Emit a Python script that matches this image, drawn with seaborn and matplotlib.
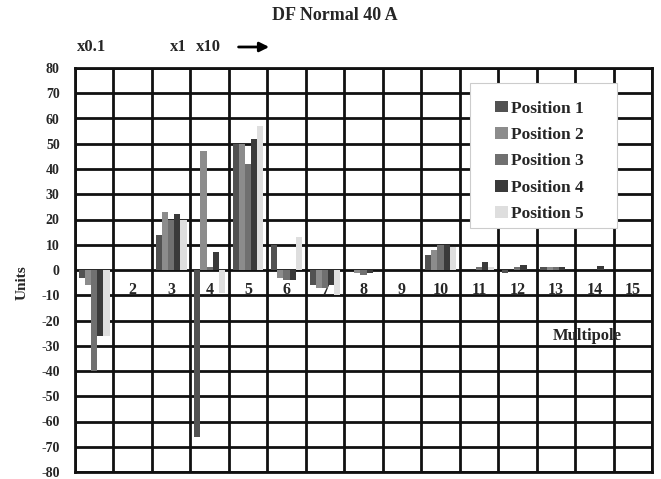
import numpy as np
import pandas as pd
import seaborn as sns
import matplotlib.pyplot as plt
from matplotlib.patches import Rectangle

# multipole index 1..15
multipoles = [str(i) for i in range(1, 16)]
positions = ["Position 1", "Position 2", "Position 3", "Position 4", "Position 5"]

pos1 = [-3, 0, 14, -66, 50, 10, -6, 0, 0, 6, 0, -1, 1, 0, 0]
pos2 = [-6, 0, 23, 47, 50, -3, -7, -1, 0, 8, 0, 0, 1, 0, 0]
pos3 = [-40, 0, 20, 1, 42, -4, -7, -2, 0, 10, 1, 1, 1, 0, 0]
pos4 = [-26, 0, 22, 7, 52, -4, -6, -1, 0, 10, 3, 2, 1, 1.5, 0]
pos5 = [-26, 0, 20, -9, 57, 13, -10, 0, 0, 9, 1, 0, 0, 0, 0]

colors = ["#525252", "#8c8c8c", "#707070", "#3a3a3a", "#dedede"]

df = pd.DataFrame({
    "Multipole": multipoles * 5,
    "Units": pos1 + pos2 + pos3 + pos4 + pos5,
    "Position": [p for p in positions for _ in multipoles],
})

sns.set_theme(style="white")
plt.rcParams['font.family'] = ['Liberation Serif', 'DejaVu Serif']
plt.rcParams['font.weight'] = 'bold'
plt.rcParams['axes.unicode_minus'] = False

f = plt.figure(figsize=(6.61, 4.79), dpi=100)
ax = f.add_axes([75 / 661, 1 - 472 / 479, 577 / 661, 404 / 479])

bplot = sns.barplot(data=df, x="Multipole", y="Units", hue="Position", order=multipoles,
                    hue_order=positions, palette=colors, saturation=1, width=0.8,
                    linewidth=0, ax=ax, zorder=3)

ax.set_ylim(-80, 80)
ax.set_xlim(-0.5, 14.5)
ax.set_yticks(np.arange(-80, 81, 10))
ax.set_xticks(np.arange(-0.5, 15, 1))
ax.set_xticklabels([])
ax.grid(True, color="#111111", linewidth=2)
ax.set_axisbelow(True)
ax.tick_params(axis="y", length=6, width=2, color="#111111", labelsize=10, pad=5)
ax.tick_params(axis="x", length=0)
for s in ax.spines.values():
    s.set_color("#111111")
    s.set_linewidth(2)

# multipole numbers inside the plot
for i, m in enumerate(multipoles):
    ax.text(i, -7.9, m, ha="center", va="center", fontsize=11.5, fontweight="bold", zorder=1)

ax.text(12.81, -26, "Multipole", ha="center", va="center", fontsize=12, fontweight="bold")
ax.set_xlabel("")
ax.set_ylabel("")
f.text(22 / 661, 1 - 283 / 479, "Units", rotation=90, ha="center", va="center",
       fontsize=11, fontweight="bold")
f.text(335 / 661, 1 - 15 / 479, "DF Normal 40 A", ha="center", va="center",
       fontsize=13, fontweight="bold")

tr = ax.get_xaxis_transform()
ax.text(-0.06, 1.052, "x0.1", transform=tr, ha="center", va="center", fontsize=12, fontweight="bold")
ax.text(2.18, 1.052, "x1", transform=tr, ha="center", va="center", fontsize=12, fontweight="bold")
ax.text(2.96, 1.052, "x10", transform=tr, ha="center", va="center", fontsize=12, fontweight="bold")
ax.annotate("", xy=(4.62, 1.052), xytext=(3.68, 1.052), xycoords=tr, textcoords=tr,
            arrowprops=dict(arrowstyle="-|>", color="black", lw=2, mutation_scale=14))

# legend box drawn separately so its padding matches the original
ax.add_patch(Rectangle((0.6846, 0.604), 0.2548, 0.359, transform=ax.transAxes,
                       facecolor="white", edgecolor="#cccccc", linewidth=0.8, zorder=4))
leg = ax.legend(loc="upper left", bbox_to_anchor=(0.700, 0.958), frameon=False,
                handlelength=0.8, handleheight=0.65, handletextpad=0.15, labelspacing=0.6,
                borderpad=0.4, prop={"size": 12.5, "weight": "bold"})
leg.set_zorder(5)

f.savefig("out.png", dpi=100)
